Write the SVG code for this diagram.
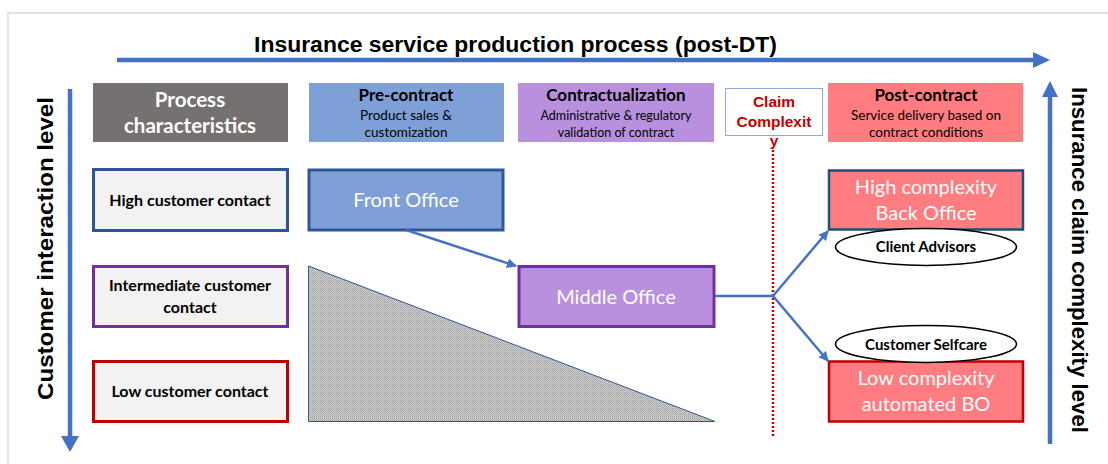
<svg xmlns="http://www.w3.org/2000/svg" width="1108" height="464" viewBox="0 0 1108 464">
<style>
.ax{stroke:#4472c4;stroke-width:4.5;fill:none}
.axh{fill:#4472c4}
.con{stroke:#4472c4;stroke-width:2.5;fill:none}
.hdr{font-family:Lato,"Liberation Sans",sans-serif;text-anchor:middle}
.ttl{font-family:"Liberation Sans",Arial,sans-serif;font-weight:bold;font-size:22px;fill:#000}
.lbl{font-family:Lato,"Liberation Sans",sans-serif;font-weight:bold;font-size:16px;fill:#000;text-anchor:middle}
.big{font-family:Lato,"Liberation Sans",sans-serif;font-size:20px;fill:#fff;text-anchor:middle}
.lb{fill:#f2f2f2;stroke-width:3}
.ell{font-family:Lato,"Liberation Sans",sans-serif;font-weight:bold;font-size:15px;text-anchor:middle}
</style>
<defs>
<marker id="ah" viewBox="0 0 10 10" refX="9" refY="5" markerWidth="4" markerHeight="4" orient="auto" markerUnits="strokeWidth">
<path d="M0,0 L10,5 L0,10 z" fill="#4472c4"/>
</marker>
<pattern id="hatch" width="2" height="2" patternUnits="userSpaceOnUse">
<rect width="2" height="2" fill="#d2d2d2"/>
<rect x="0" y="0" width="1" height="1" fill="#9a9a9a"/>
<rect x="1" y="1" width="1" height="1" fill="#b0b0b0"/>
</pattern>
</defs>
<rect width="1108" height="464" fill="#fff"/>
<rect x="8" y="13" width="1200" height="500" fill="none" stroke="#d9d9d9" stroke-width="1.5"/>

<g id="axis-top">
<line class="ax" x1="117" y1="60" x2="1035" y2="60"/>
<polygon class="axh" points="1033,52 1050,60 1033,68"/>
<text class="ttl" x="515.5" y="52" text-anchor="middle" textLength="523" lengthAdjust="spacingAndGlyphs">Insurance service production process (post-DT)</text>
</g>
<g id="axis-left">
<line class="ax" x1="70" y1="89" x2="70" y2="438"/>
<polygon class="axh" points="61,436 70,452 79,436"/>
<text class="ttl" transform="translate(53,248.5) rotate(-90)" text-anchor="middle" textLength="303" lengthAdjust="spacingAndGlyphs">Customer interaction level</text>
</g>
<g id="axis-right">
<line class="ax" x1="1050" y1="444" x2="1050" y2="95"/>
<polygon class="axh" points="1042,97 1050,81 1058,97"/>
<text class="ttl" transform="translate(1072,260) rotate(90)" text-anchor="middle" textLength="346" lengthAdjust="spacingAndGlyphs">Insurance claim complexity level</text>
</g>

<g id="hdr-process">
<rect x="93" y="83" width="195" height="59" fill="#767171"/>
<text class="hdr" x="190" y="107" font-size="20.5" font-weight="bold" fill="#fff">Process</text>
<text class="hdr" x="190" y="133" font-size="20.5" font-weight="bold" fill="#fff">characteristics</text>
</g>
<g id="hdr-precontract">
<rect x="309" y="83" width="195" height="59" fill="#7f9fd7"/>
<text class="hdr" x="406" y="101" font-size="17" font-weight="bold">Pre-contract</text>
<text class="hdr" x="406" y="120" font-size="13.5">Product sales &amp;</text>
<text class="hdr" x="406" y="137" font-size="13.5">customization</text>
</g>
<g id="hdr-contract">
<rect x="518" y="83" width="196" height="59" fill="#b990de"/>
<text class="hdr" x="616" y="101" font-size="17" font-weight="bold">Contractualization</text>
<text class="hdr" x="616" y="120" font-size="12.5">Administrative &amp; regulatory</text>
<text class="hdr" x="616" y="137" font-size="12.5">validation of contract</text>
</g>
<g id="hdr-claim">
<rect x="725.5" y="88.5" width="97" height="47" fill="#fff" stroke="#8faadc" stroke-width="1"/>
<text x="774" y="107" text-anchor="middle" font-family="Liberation Sans,Arial,sans-serif" font-weight="bold" font-size="15.5" fill="#c00000">Claim</text>
<text x="774" y="127" text-anchor="middle" font-family="Liberation Sans,Arial,sans-serif" font-weight="bold" font-size="15.5" fill="#c00000">Complexit</text>
<text x="774" y="146" text-anchor="middle" font-family="Liberation Sans,Arial,sans-serif" font-weight="bold" font-size="15.5" fill="#c00000">y</text>
</g>
<g id="hdr-post">
<rect x="828" y="83" width="195" height="59" fill="#ff7c80"/>
<text class="hdr" x="926" y="101" font-size="17" font-weight="bold">Post-contract</text>
<text class="hdr" x="926" y="120" font-size="13.5">Service delivery based on</text>
<text class="hdr" x="926" y="137" font-size="13.5">contract conditions</text>
</g>

<g id="row-high">
<rect class="lb" x="93.5" y="169.5" width="194" height="61" stroke="#2f5597"/>
<text class="lbl" x="190" y="206">High customer contact</text>
</g>
<g id="row-mid">
<rect class="lb" x="93.5" y="266.5" width="194" height="60" stroke="#7030a0"/>
<text class="lbl" x="190" y="291">Intermediate customer</text>
<text class="lbl" x="190" y="313">contact</text>
</g>
<g id="row-low">
<rect class="lb" x="93.5" y="361.5" width="194" height="60" stroke="#c00000"/>
<text class="lbl" x="190" y="397">Low customer contact</text>
</g>

<g id="triangle">
<polygon points="308.5,266 308.5,421.5 715,421.5" fill="url(#hatch)" stroke="#2f5597" stroke-width="1"/>
</g>

<g id="front-office">
<rect x="309" y="170" width="194" height="60" fill="#7f9fd7" stroke="#2f5597" stroke-width="3"/>
<text class="big" x="406" y="207">Front Office</text>
</g>
<g id="middle-office">
<rect x="519" y="266.5" width="195" height="60" fill="#b990de" stroke="#7030a0" stroke-width="3"/>
<text class="big" x="616" y="304">Middle Office</text>
</g>
<g id="back-office">
<rect x="829" y="170.5" width="194" height="59" fill="#ff7c80" stroke="#1f4e79" stroke-width="2.5"/>
<text class="big" x="926" y="194" font-size="20.5">High complexity</text>
<text class="big" x="926" y="220" font-size="20.5">Back Office</text>
</g>
<g id="automated-bo">
<rect x="829" y="361.5" width="194" height="60" fill="#ff7c80" stroke="#c00000" stroke-width="2.5"/>
<text class="big" x="926" y="385" font-size="20.5">Low complexity</text>
<text class="big" x="926" y="411" font-size="20.5">automated BO</text>
</g>

<g id="connectors">
<line x1="773" y1="150" x2="773" y2="436" stroke="#c00000" stroke-width="2.5" stroke-dasharray="2,2"/>
<line class="con" x1="406" y1="230" x2="516" y2="266" marker-end="url(#ah)"/>
<polyline class="con" points="715,296 773,296"/>
<line class="con" x1="773" y1="296" x2="828" y2="231" marker-end="url(#ah)"/>
<line class="con" x1="773" y1="296" x2="828" y2="361" marker-end="url(#ah)"/>
</g>

<g id="client-advisors">
<ellipse cx="926" cy="247" rx="90.5" ry="18.5" fill="#fff" stroke="#000" stroke-width="1.6"/>
<text class="ell" x="926" y="252">Client Advisors</text>
</g>
<g id="customer-selfcare">
<ellipse cx="926" cy="344" rx="90.5" ry="18.5" fill="#fff" stroke="#000" stroke-width="1.6"/>
<text class="ell" x="926" y="350">Customer Selfcare</text>
</g>
</svg>
